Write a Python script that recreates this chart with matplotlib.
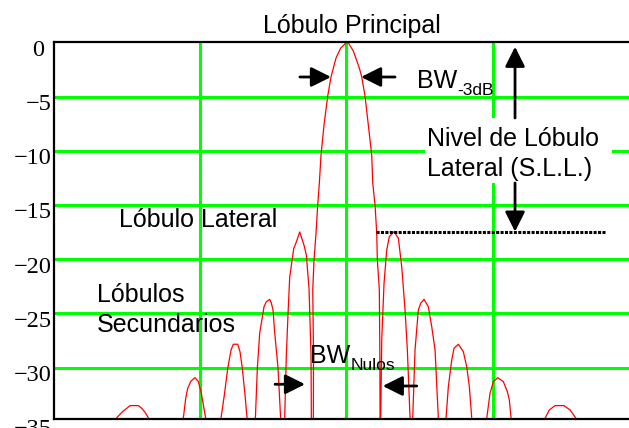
import matplotlib.pyplot as plt
from matplotlib.patches import Rectangle
from matplotlib.transforms import blended_transform_factory, offset_copy


# -----------------------------
# Datos
# ángulo en grados, nivel en dB; -45 = nulo por debajo del eje
# -----------------------------

angulo = [
    18.24, 19.38, 20.39, 21.41, 22.45, 23.47, 26.02, 27.07, 28.08, 29.10,
    34.23,
    39.86, 40.60, 41.22, 42.23, 43.46, 44.48, 45.31, 46.02, 46.75,
    49.15,
    51.46, 52.48, 53.52, 54.54, 55.24, 56.60, 57.30, 58.01, 58.84, 59.46,
    60.69,
    62.01, 62.63, 63.36, 64.69, 65.39, 66.44, 66.93, 67.45, 67.98, 68.99, 69.82,
    70.44,
    71.05, 71.55, 72.07, 72.59, 73.82, 74.62, 75.67, 76.99, 77.70, 78.53, 79.14, 79.24,
    79.54,
    79.85, 79.91, 79.67, 80.07, 80.68, 81.20, 81.70, 82.22, 83.14, 84.28, 85.29,
    86.83, 88.28, 90.12, 90.62, 92.15, 94.00, 94.74, 95.75, 96.77, 97.81, 98.12,
    98.83, 99.35, 99.54, 100.15, 100.31, 100.37,
    100.49,
    100.58, 100.89, 101.60, 102.43, 103.23, 104.67, 106.00, 107.04, 108.06, 108.77, 109.60,
    110.00,
    110.42, 111.13, 112.15, 112.89, 113.90, 115.22, 116.27, 117.29, 118.30,
    119.44,
    120.67, 121.38, 122.42, 123.13, 124.45, 125.99, 127.03, 127.84, 128.57,
    130.82,
    133.19, 134.20, 135.22, 136.57, 138.29, 139.52, 140.14, 140.66,
    145.89,
    151.12, 152.44, 154.19, 156.96, 158.81, 160.65,
    161.88,
]

nivel_db = [
    -45, -34.61, -34.30, -33.99, -33.75, -33.50, -33.50, -33.75, -34.11, -34.61,
    -45,
    -34.67, -32.82, -31.90, -31.23, -30.92, -31.29, -32.21, -33.44, -34.67,
    -45,
    -34.64, -32.52, -30.06, -28.37, -27.84, -27.84, -28.53, -30.06, -32.52, -34.64,
    -45,
    -34.82, -30.03, -26.80, -24.38, -23.92, -23.70, -24.04, -24.68, -26.80, -30.03, -34.82,
    -45,
    -34.55, -28.83, -25.02, -21.64, -19.03, -18.41, -17.49, -18.72, -19.61, -22.72, -28.83, -34.73,
    -45,
    -34.73, -28.83, -22.83, -20.07, -17.58, -15.00, -12.97, -10.39, -7.62, -4.95, -3.20,
    -1.45, -0.53, 0.0, -0.06, -0.80, -2.37, -3.20, -4.95, -7.62, -10.39, -12.97,
    -15.00, -17.58, -20.07, -22.83, -28.83, -34.73,
    -45,
    -34.64, -27.45, -22.22, -19.15, -17.92, -17.46, -18.07, -20.69, -24.68, -28.37, -34.64,
    -45,
    -34.64, -28.37, -24.68, -24.06, -23.70, -24.38, -26.22, -28.37, -34.64,
    -45,
    -34.64, -31.75, -29.29, -28.21, -27.84, -28.53, -29.91, -31.75, -34.64,
    -45,
    -34.64, -32.36, -31.29, -30.92, -31.29, -32.21, -32.98, -34.64,
    -45,
    -34.67, -33.90, -33.50, -33.50, -33.90, -34.67,
    -45,
]

y_ticks = [0, -5, -10, -15, -20, -25, -30, -35]
x_rejilla = [45, 90, 135]
nivel_sll = -17.49

VERDE = "#00ff00"


def flecha(ax, desde, hasta):
    ax.annotate(
        "", xy=hasta, xytext=desde,
        arrowprops=dict(
            arrowstyle="-|>,head_length=0.6,head_width=0.3",
            mutation_scale=20, color="black", lw=2.0,
            shrinkA=0, shrinkB=0,
        ),
        annotation_clip=False,
    )


def main():
    plt.rcParams["font.family"] = ["Liberation Sans", "DejaVu Sans"]

    fig = plt.figure(figsize=(6.29, 4.28), dpi=100)
    # el eje llega hasta 180°, el borde derecho queda recortado
    ax = fig.add_axes([0.0854, 0.0206, 0.9304, 0.8806])
    ax.set_xlim(0, 180)
    ax.set_ylim(-34.75, 0)

    ax.set_axisbelow(True)
    ax.set_xticks(x_rejilla)
    ax.set_yticks(y_ticks[1:-1])
    ax.tick_params(length=0, labelbottom=False, labelleft=False)
    ax.grid(True, color=VERDE, linewidth=2.2)

    for lado in ["top", "left", "bottom"]:
        ax.spines[lado].set_linewidth(1.6)
        ax.spines[lado].set_color("black")
    ax.spines["right"].set_visible(False)

    # Etiquetas del eje Y (estilo Mathcad, debajo de la línea)
    base = blended_transform_factory(ax.transAxes, ax.transData)
    for v in y_ticks:
        # el "0" queda algo más a la izquierda que los demás
        dx = -10 if v == 0 else -2
        trans = offset_copy(base, fig=fig, x=dx, y=-13.5, units="dots")
        ax.text(0, v, str(v).replace("-", "\u2212"), transform=trans,
                ha="right", va="baseline",
                family=["Liberation Serif", "DejaVu Serif"],
                fontsize=17.5, clip_on=False)

    # Diagrama de radiación
    ax.plot(angulo, nivel_db, color="red", linewidth=0.9, zorder=2)

    # Cuadro blanco detrás del texto del S.L.L.
    ax.add_patch(Rectangle((114.22, -12.97), 57.5, 5.99,
                           facecolor="white", edgecolor="none", zorder=1))

    # Línea punteada en el nivel del lóbulo lateral
    ax.plot([99.14, 169.58], [nivel_sll, nivel_sll], color="black",
            linewidth=2.2, linestyle=(0, (1, 0.45)), zorder=3)

    # Textos (va="baseline" en texto de dos líneas = última línea)
    ax.text(91.7, 0.86, "Lóbulo Principal", ha="center", va="baseline",
            fontsize=18, clip_on=False)
    ax.text(111.66, -4.21, "BW", ha="left", va="baseline", fontsize=18)
    ax.text(124.2, -4.86, "-3dB", ha="left", va="baseline", fontsize=12.5)
    ax.text(114.83, -12.30, "Nivel de Lóbulo\nLateral (S.L.L.)", ha="left",
            va="baseline", fontsize=18, linespacing=1.3)
    ax.text(20.09, -17.0, "Lóbulo Lateral", ha="left", va="baseline",
            fontsize=18)
    ax.text(13.23, -26.68, "Lóbulos\nSecundarios", ha="left", va="baseline",
            fontsize=18, linespacing=1.3)
    ax.text(78.84, -29.60, "BW", ha="left", va="baseline", fontsize=18)
    ax.text(91.36, -30.21, "Nulos", ha="left", va="baseline", fontsize=12.5)

    # Flechas
    flecha(ax, (75.73, -3.20), (85.29, -3.20))
    flecha(ax, (104.98, -3.20), (94.52, -3.20))
    flecha(ax, (141.89, -6.98), (141.89, -0.41))
    flecha(ax, (141.89, -12.97), (141.89, -17.46))
    flecha(ax, (68.07, -31.53), (77.30, -31.53))
    flecha(ax, (111.66, -31.69), (101.20, -31.69))

    fig.savefig("out.png", dpi=100)


if __name__ == "__main__":
    main()
